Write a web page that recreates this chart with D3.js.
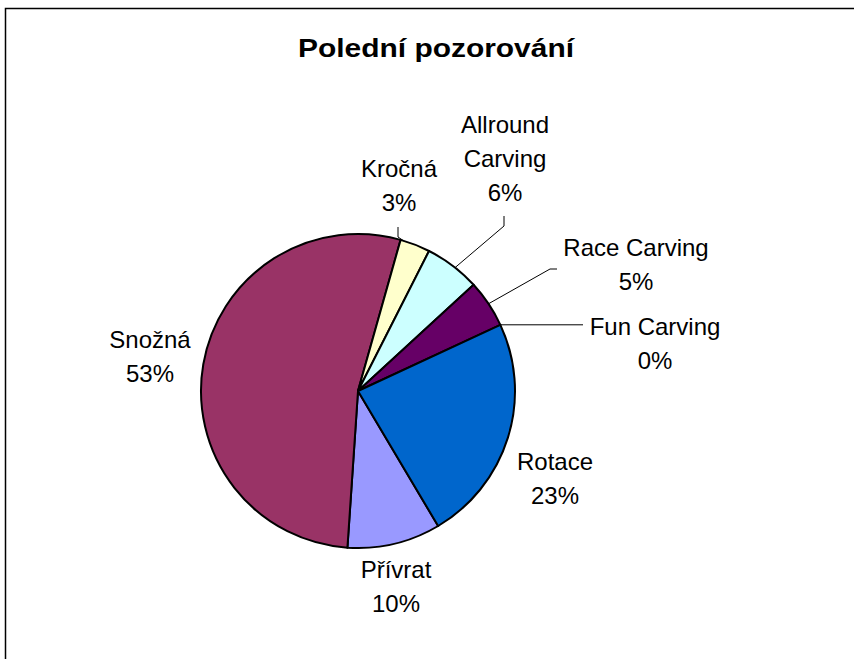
<!DOCTYPE html>
<html>
<head>
<meta charset="utf-8">
<script src="https://cdn.jsdelivr.net/npm/d3@7"></script>
<style>
html,body{margin:0;padding:0;background:#fff;}
svg{display:block;}
text{font-family:"Liberation Sans",Arial,sans-serif;fill:#000;}
</style>
</head>
<body>
<svg id="chart" width="854" height="659"></svg>
<script>
// ---- data ----
const title = "Polední pozorování";
const categories = ["Přívrat","Snožná","Kročná","Allround Carving","Race Carving","Fun Carving","Rotace"];
const values = [9.6, 53.3, 3.1, 5.7, 4.9, 0, 23.4];
const colors = ["#9999FF","#993366","#FFFFCC","#CCFFFF","#660066","#FF8080","#0066CC"];

// ---- layout (label placement, not data) ----
const labelLines = {
  "Přívrat": ["Přívrat"],
  "Snožná": ["Snožná"],
  "Kročná": ["Kročná"],
  "Allround Carving": ["Allround","Carving"],
  "Race Carving": ["Race Carving"],
  "Fun Carving": ["Fun Carving"],
  "Rotace": ["Rotace"]
};
const labelPos = {
  "Přívrat": {x:396, y:578},
  "Snožná": {x:150, y:348},
  "Kročná": {x:399, y:177},
  "Allround Carving": {x:505, y:133},
  "Race Carving": {x:636, y:256},
  "Fun Carving": {x:655, y:335},
  "Rotace": {x:555, y:470}
};
// leader: fixed elbow points then end on arc at fraction t of slice
const leaders = {
  "Kročná": {pts:[[398,227],[398,237]], t:0.1},
  "Allround Carving": {pts:[[504,216],[504,226]], t:0.55},
  "Race Carving": {pts:[[557,269],[550,269]], t:0.5},
  "Fun Carving": {pts:[], horiz:583, t:0.5}
};

const svg = d3.select("#chart");
const cx = 358, cy = 391, R = 157;

// frame
svg.append("rect").attr("x",5.5).attr("y",8.5).attr("width",900).attr("height",700)
  .attr("fill","#fff").attr("stroke","#000").attr("stroke-width",1.5);

// title
svg.append("text").attr("x",436).attr("y",57).attr("text-anchor","middle")
  .attr("font-size",25).attr("font-weight","bold")
  .attr("textLength",276).attr("lengthAdjust","spacingAndGlyphs")
  .text(title);

const data = categories.map((c,i)=>({cat:c, value:values[i], color:colors[i]}));
const start = 149.3*Math.PI/180;
const pie = d3.pie().sort(null).value(d=>d.value).startAngle(start).endAngle(start+2*Math.PI);
const arcs = pie(data);
const arc = d3.arc().innerRadius(0).outerRadius(R);

const g = svg.append("g").attr("transform",`translate(${cx},${cy})`);
g.selectAll("path").data(arcs.filter(d=>d.value>0)).join("path")
  .attr("d",arc).attr("fill",d=>d.data.color)
  .attr("stroke","#000").attr("stroke-width",2).attr("stroke-linejoin","round");

// leader lines
arcs.forEach(a=>{
  const L = leaders[a.data.cat];
  if(!L) return;
  const ang = a.startAngle + (a.endAngle-a.startAngle)*L.t;
  const ex = cx + R*Math.sin(ang), ey = cy - R*Math.cos(ang);
  let pts = L.pts.concat([[ex,ey]]);
  if(L.horiz) pts = [[L.horiz, ey],[ex,ey]];
  svg.append("path").attr("d",d3.line()(pts)).attr("fill","none")
    .attr("stroke","#000").attr("stroke-width",1);
});

// labels
const pct = d3.format(".0f");
arcs.forEach(a=>{
  const p = labelPos[a.data.cat];
  const lines = labelLines[a.data.cat].concat([pct(a.data.value)+"%"]);
  const t = svg.append("text").attr("text-anchor","middle").attr("font-size",24);
  lines.forEach((ln,i)=>{
    t.append("tspan").attr("x",p.x).attr("y",p.y+i*34).text(ln);
  });
});
</script>
</body>
</html>
